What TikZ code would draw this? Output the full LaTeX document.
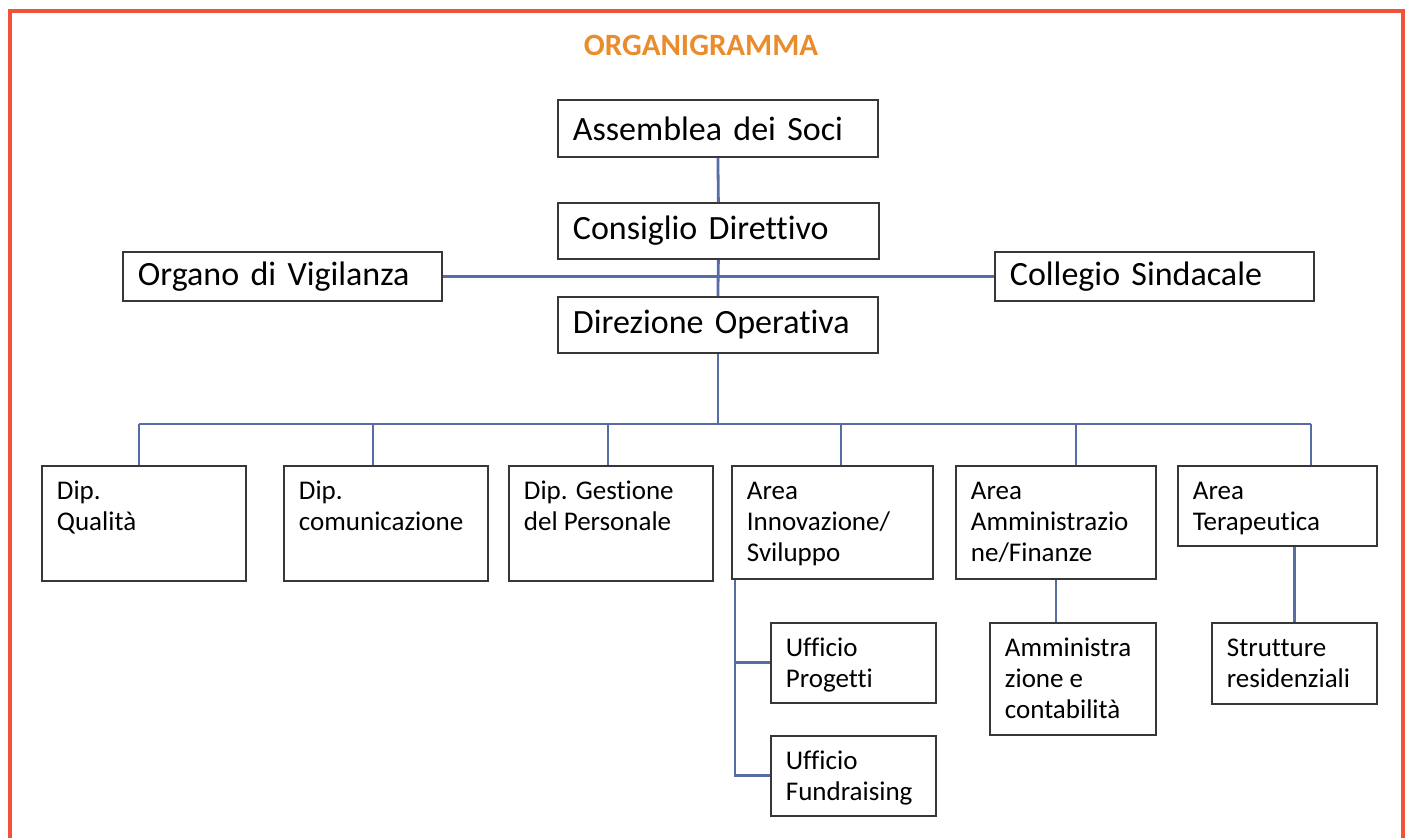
\documentclass[tikz,border=0pt]{standalone}
\usepackage{fontspec}
\setmainfont{Carlito}[Ligatures=NoCommon]

\definecolor{cornice}{RGB}{240,82,58}
\definecolor{titolo}{RGB}{234,140,44}
\definecolor{linea}{RGB}{88,108,165}
\definecolor{bordobox}{RGB}{55,55,55}

% testo in alto a sinistra in un riquadro di misura data
\newcommand{\cella}[3]{\parbox[c][#2][t]{\dimexpr#1-15pt\relax}{\raggedright\rule{0pt}{17pt}#3}}

\begin{document}
\begin{tikzpicture}[x=0.5pt,y=-0.5pt,
  conn/.style={draw=linea, line width=1.4pt},
  capo/.style={draw=bordobox, line width=0.9pt, anchor=north west, align=left,
               inner xsep=7.5pt, font=\fontsize{17}{20}\selectfont},
  ufficio/.style={draw=bordobox, line width=0.9pt, anchor=north west,
               inner xsep=7.5pt, inner ysep=0pt, font=\fontsize{13.5}{15.5}\selectfont}]

\useasboundingbox (0,0) rectangle (1410,838);

% cornice
\draw[cornice, line width=1.6pt] (10,838) -- (10,11) -- (1403,11) -- (1403,838);

\node[text=titolo, font=\fontsize{15.5}{18}\selectfont\bfseries] (tit) at (701,45) {ORGANIGRAMMA};

% vertice
\node[capo, text width=145pt, minimum height=28.5pt] (assemblea) at (557,99) {Assemblea dei Soci};
\node[capo, text width=145.5pt, minimum height=28pt] (consiglio) at (557,202) {Consiglio Direttivo};
\node[capo, text width=145pt, minimum height=28pt] (direzione) at (557,296) {Direzione Operativa};
\node[capo, text width=144.5pt, minimum height=24.5pt] (organo) at (122,251) {Organo di Vigilanza};
\node[capo, text width=144.5pt, minimum height=24.5pt] (collegio) at (994,251) {Collegio Sindacale};

% dipartimenti e aree
\node[ufficio] (qual) at (41,465) {\cella{102pt}{57.5pt}{Dip.\\Qualità}};
\node[ufficio] (comu) at (283,465) {\cella{102pt}{57.5pt}{Dip.\\comunicazione}};
\node[ufficio] (pers) at (508,465) {\cella{102pt}{57.5pt}{Dip. Gestione\\del Personale}};
\node[ufficio] (innov) at (731,465) {\cella{100.5pt}{56.5pt}{Area\\Innovazione/\\Sviluppo}};
\node[ufficio] (ammin) at (955,465) {\cella{100pt}{56.5pt}{Area\\Amministrazio\\ne/Finanze}};
\node[ufficio] (terap) at (1177,465) {\cella{99.5pt}{40pt}{Area\\Terapeutica}};

% uffici
\node[ufficio] (progetti) at (770,622) {\cella{82.5pt}{40pt}{Ufficio\\Progetti}};
\node[ufficio] (fundr) at (770,735) {\cella{82.5pt}{40pt}{Ufficio\\Fundraising}};
\node[ufficio] (contab) at (989,622) {\cella{83pt}{56pt}{Amministra\\zione e\\contabilità}};
\node[ufficio] (strutt) at (1211,622) {\cella{82.5pt}{40.5pt}{Strutture\\residenziali}};

% collegamenti
\coordinate (bus) at (717,424);
\draw[conn] (assemblea.south) -- (consiglio.north);
\draw[conn] (consiglio.south) -- (direzione.north);
\draw[conn] (organo.east) -- (collegio.west);
\draw[conn] (direzione.south) -- (direzione.south |- bus);
\draw[conn] ([xshift=-2.5pt]qual.north |- bus) -- ([xshift=16.75pt]terap.north |- bus);
\foreach \n/\dx in {qual/-2.5pt, comu/-6.5pt, pers/-1.5pt, innov/4.25pt, ammin/10pt, terap/16.75pt}
  \draw[conn] ([xshift=\dx]\n.north) -- ([xshift=\dx]\n.north |- bus);

\draw[conn] ([xshift=2pt]innov.south west) |- (fundr.west);
\draw[conn] ([xshift=2pt]innov.south west |- progetti.west) -- (progetti.west);
\draw[conn] (ammin.south) -- (ammin.south |- contab.north);
\draw[conn] (strutt.north) -- (strutt.north |- terap.south);

\end{tikzpicture}
\end{document}
